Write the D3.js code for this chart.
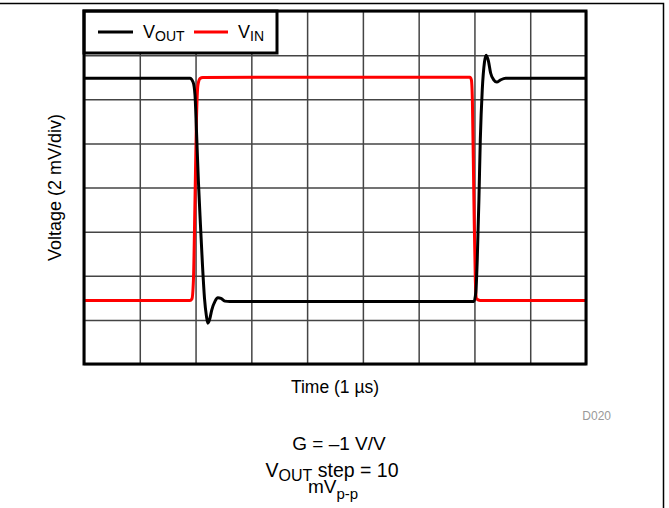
<!DOCTYPE html>
<html>
<head>
<meta charset="utf-8">
<script src="https://d3js.org/d3.v7.min.js"></script>
<style>
  body { margin: 0; background: #fff; }
  text { font-family: "Liberation Sans", Arial, sans-serif; }
</style>
</head>
<body>
<svg></svg>
<script>

// time in divisions (1 us/div), voltage in mV (2 mV/div)
var voutTime = [0, 1.90, 1.955, 1.99, 2.016, 2.05, 2.088, 2.124, 2.16, 2.195, 2.22, 2.25, 2.29, 2.35, 2.40, 2.455, 2.525, 2.615,
                6.99, 7.025, 7.05, 7.08, 7.105, 7.14, 7.18, 7.21, 7.25, 7.29, 7.345, 7.40, 7.47, 7.56, 9];
var voutMv   = [4.95, 4.95, 4.78, 4.2, 2.6, 0.34, -1.7, -3.51, -5.01, -5.83, -6.15, -6.0, -5.56, -5.15, -5.0, -5.03, -5.15, -5.17,
                -5.17, -4.74, -3.29, -0.57, 2.15, 4.42, 5.69, 6.0, 5.74, 5.19, 4.88, 4.78, 4.88, 4.95, 4.95];

var vinTime = [0, 1.90, 1.935, 1.962, 1.99, 2.016, 2.043, 2.08, 2.13, 6.92, 6.945, 6.963, 6.99, 7.016, 7.04, 7.10, 9];
var vinMv   = [-5.12, -5.12, -5.05, -4.2, -0.57, 3.06, 4.65, 4.94, 4.99, 5.0, 4.88, 3.97, -0.57, -4.2, -5.05, -5.12, -5.12];

var seriesNames = [["V", "OUT"], ["V", "IN"]];
var seriesColors = ["#000000", "#ff0000"];

var width = 669;
var height = 508;
var pLeft = 84, pRight = 586, pTop = 11, pBottom = 364;

var svg = d3.select("svg")
            .attr("width", width)
            .attr("height", height);

var x = d3.scaleLinear().domain([0, 9]).range([pLeft, pRight]);
var y = d3.scaleLinear().domain([-8, 8]).range([pBottom, pTop]);

// page frame
svg.append("path")
    .attr("d", "M0,3.5H663.5V508")
    .attr("fill", "none")
    .attr("stroke", "#000")
    .attr("stroke-width", 1.5);

// grid
var gridX = svg.append("g")
    .attr("transform", "translate(0," + pBottom + ")")
    .call(d3.axisBottom(x).ticks(9).tickSize(-(pBottom - pTop)).tickFormat(""));
var gridY = svg.append("g")
    .attr("transform", "translate(" + pLeft + ",0)")
    .call(d3.axisLeft(y).tickValues(d3.range(-8, 9, 2)).tickSize(-(pRight - pLeft)).tickFormat(""));
[gridX, gridY].forEach(g => {
  g.select(".domain").remove();
  g.selectAll("line").attr("stroke", "#444").attr("stroke-width", 1.5);
});

var line = d3.line()
    .x(d => x(d[0]))
    .y(d => y(d[1]))
    .curve(d3.curveMonotoneX);

var vinData = vinTime.map((t, i) => [t, vinMv[i]]);
var voutData = voutTime.map((t, i) => [t, voutMv[i]]);

svg.append("path")
    .datum(vinData)
    .attr("d", line)
    .attr("fill", "none")
    .attr("stroke", seriesColors[1])
    .attr("stroke-width", 3);

svg.append("path")
    .datum(voutData)
    .attr("d", line)
    .attr("fill", "none")
    .attr("stroke", seriesColors[0])
    .attr("stroke-width", 3);

// legend box
svg.append("rect")
    .attr("x", pLeft).attr("y", pTop)
    .attr("width", 193).attr("height", 42)
    .attr("fill", "#fff")
    .attr("stroke", "#000")
    .attr("stroke-width", 3);

var legendX = [[98, 133, 143], [194, 228, 238]];
seriesNames.forEach((n, i) => {
  svg.append("line")
      .attr("x1", legendX[i][0]).attr("x2", legendX[i][1])
      .attr("y1", 32).attr("y2", 32)
      .attr("stroke", seriesColors[i])
      .attr("stroke-width", 3);
  var t = svg.append("text")
      .attr("x", legendX[i][2]).attr("y", 38)
      .attr("font-size", 18);
  t.append("tspan").text(n[0]);
  t.append("tspan").attr("font-size", 14).attr("dy", 3).text(n[1]);
});

// plot border
svg.append("rect")
    .attr("x", pLeft).attr("y", pTop)
    .attr("width", pRight - pLeft).attr("height", pBottom - pTop)
    .attr("fill", "none")
    .attr("stroke", "#000")
    .attr("stroke-width", 3);

// axis titles
svg.append("text")
    .attr("x", (pLeft + pRight) / 2).attr("y", 393)
    .attr("text-anchor", "middle")
    .attr("font-size", 17.5)
    .text("Time (1 \u00b5s)");

svg.append("text")
    .attr("transform", "translate(61," + ((pTop + pBottom) / 2) + ") rotate(-90)")
    .attr("text-anchor", "middle")
    .attr("font-size", 18)
    .text("Voltage (2 mV/div)");

svg.append("text")
    .attr("x", 611).attr("y", 420)
    .attr("text-anchor", "end")
    .attr("font-size", 12)
    .attr("fill", "#999")
    .text("D020");

// conditions
svg.append("text")
    .attr("x", 339).attr("y", 450)
    .attr("text-anchor", "middle")
    .attr("font-size", 19)
    .text("G = \u20131 V/V");

var s1 = svg.append("text")
    .attr("x", 332).attr("y", 477)
    .attr("text-anchor", "middle")
    .attr("font-size", 19.5);
s1.append("tspan").text("V");
s1.append("tspan").attr("font-size", 16).attr("dy", 4).text("OUT");
s1.append("tspan").attr("dy", -4).text(" step = 10");

var s2 = svg.append("text")
    .attr("x", 333).attr("y", 493)
    .attr("text-anchor", "middle")
    .attr("font-size", 19);
s2.append("tspan").text("mV");
s2.append("tspan").attr("font-size", 15).attr("dy", 6).text("p-p");

</script>
</body>
</html>
